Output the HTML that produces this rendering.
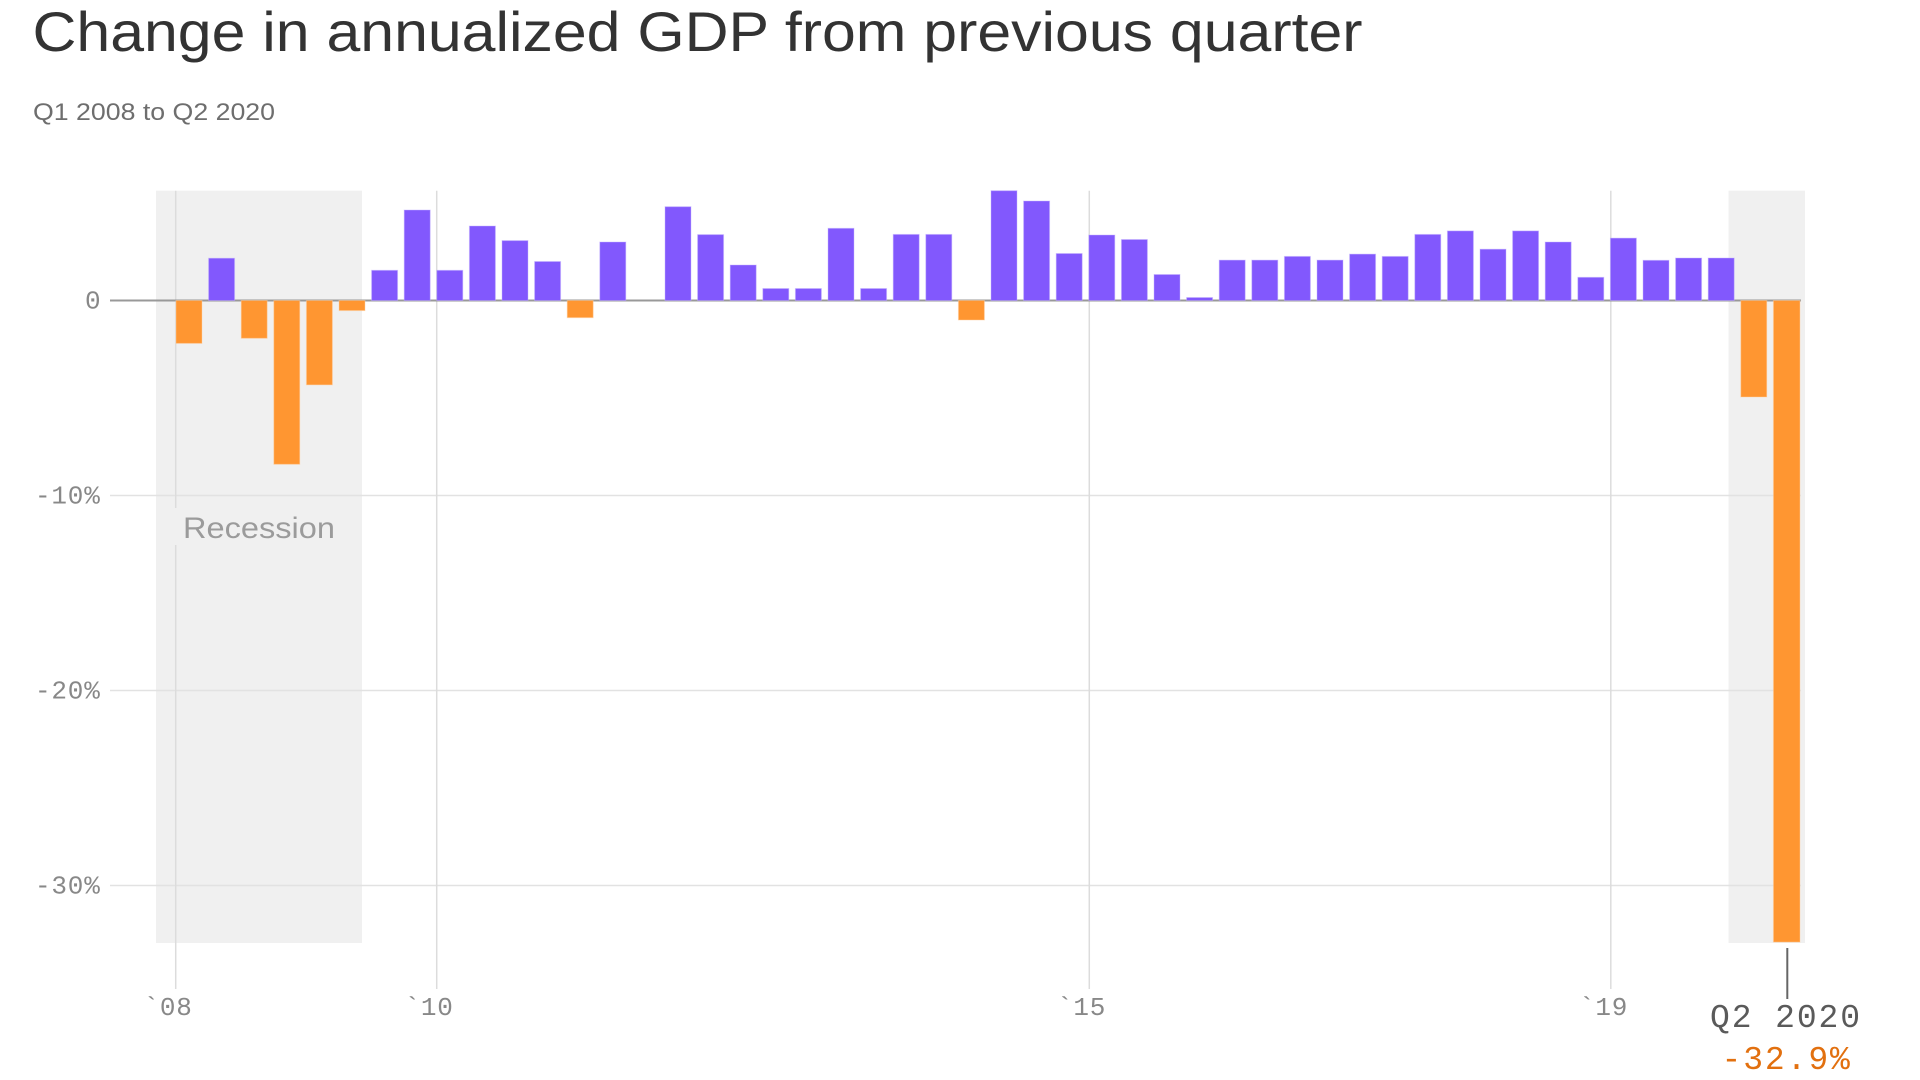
<!DOCTYPE html>
<html>
<head>
<meta charset="utf-8">
<style>
  html, body { margin: 0; padding: 0; background: #ffffff; }
  body { width: 1920px; height: 1080px; overflow: hidden; }
  svg { display: block; }
  .mono { font-family: "Liberation Mono", "DejaVu Sans Mono", monospace; }
  .sans { font-family: "Liberation Sans", "DejaVu Sans", sans-serif; }
</style>
</head>
<body>
<svg width="1920" height="1080" viewBox="0 0 1920 1080" xmlns="http://www.w3.org/2000/svg">
  <rect x="0" y="0" width="1920" height="1080" fill="#ffffff"/>

  <text class="sans" x="32.5" y="51" font-size="56" fill="#333333" textLength="1330" lengthAdjust="spacingAndGlyphs">Change in annualized GDP from previous quarter</text>
  <text class="sans" x="33" y="120" font-size="24" fill="#6e6e6e" textLength="242" lengthAdjust="spacingAndGlyphs">Q1 2008 to Q2 2020</text>

  <rect x="156" y="190.7" width="206" height="752.3" fill="#f0f0f0"/>
  <rect x="1728.5" y="190.7" width="76.5" height="752.3" fill="#f0f0f0"/>

  <g stroke="#e2e2e2" stroke-width="1.5">
    <line x1="110" y1="495.5" x2="1801" y2="495.5"/>
    <line x1="110" y1="690.5" x2="1801" y2="690.5"/>
    <line x1="110" y1="885.5" x2="1801" y2="885.5"/>
  </g>

  <g stroke="#dcdcdc" stroke-width="1.5">
    <line x1="175.7" y1="190.7" x2="175.7" y2="508"/>
    <line x1="175.7" y1="545" x2="175.7" y2="989"/>
    <line x1="436.7" y1="190.7" x2="436.7" y2="989"/>
    <line x1="1089.3" y1="190.7" x2="1089.3" y2="989"/>
    <line x1="1610.8" y1="190.7" x2="1610.8" y2="989"/>
  </g>

  <text class="sans" x="183" y="538" font-size="30" fill="#9b9b9b" textLength="152" lengthAdjust="spacingAndGlyphs">Recession</text>

  <line x1="110" y1="300.5" x2="1801" y2="300.5" stroke="#999999" stroke-width="2"/>

  <g stroke-width="1" stroke-opacity="0.45">
    <g fill="#ff9631" stroke="#ffd0a3">
      <rect x="176" y="300.5" width="26" height="42.9"/>
      <rect x="241.2" y="300.5" width="26" height="37.8"/>
      <rect x="273.8" y="300.5" width="26" height="163.8"/>
      <rect x="306.4" y="300.5" width="26" height="84.4"/>
      <rect x="339" y="300.5" width="26" height="10.1"/>
      <rect x="567.2" y="300.5" width="26" height="17.2"/>
      <rect x="958.4" y="300.5" width="26" height="19.5"/>
      <rect x="1740.8" y="300.5" width="26" height="96.5"/>
      <rect x="1773.4" y="300.5" width="26.6" height="641.6"/>
    </g>
    <g fill="#8258fd" stroke="#c4b2ff">
      <rect x="208.6" y="258.2" width="26" height="42.3"/>
      <rect x="371.6" y="270.3" width="26" height="30.2"/>
      <rect x="404.2" y="210" width="26" height="90.5"/>
      <rect x="436.8" y="270.3" width="26" height="30.2"/>
      <rect x="469.4" y="226" width="26" height="74.5"/>
      <rect x="502" y="240.6" width="26" height="59.9"/>
      <rect x="534.6" y="261.5" width="26" height="39"/>
      <rect x="599.8" y="242" width="26" height="58.5"/>
      <rect x="665" y="206.7" width="26" height="93.8"/>
      <rect x="697.6" y="234.6" width="26" height="65.9"/>
      <rect x="730.2" y="265" width="26" height="35.5"/>
      <rect x="762.8" y="288.5" width="26" height="12"/>
      <rect x="795.4" y="288.5" width="26" height="12"/>
      <rect x="828" y="228.3" width="26" height="72.2"/>
      <rect x="860.6" y="288.5" width="26" height="12"/>
      <rect x="893.2" y="234.4" width="26" height="66.1"/>
      <rect x="925.8" y="234.4" width="26" height="66.1"/>
      <rect x="991" y="190.7" width="26" height="109.8"/>
      <rect x="1023.6" y="201" width="26" height="99.5"/>
      <rect x="1056.2" y="253.5" width="26" height="47"/>
      <rect x="1088.8" y="235" width="26" height="65.5"/>
      <rect x="1121.4" y="239.5" width="26" height="61"/>
      <rect x="1154" y="274.5" width="26" height="26"/>
      <rect x="1186.6" y="297.5" width="26" height="3"/>
      <rect x="1219.2" y="260.1" width="26" height="40.4"/>
      <rect x="1251.8" y="260.1" width="26" height="40.4"/>
      <rect x="1284.4" y="256.4" width="26" height="44.1"/>
      <rect x="1317" y="260.1" width="26" height="40.4"/>
      <rect x="1349.6" y="254.1" width="26" height="46.4"/>
      <rect x="1382.2" y="256.4" width="26" height="44.1"/>
      <rect x="1414.8" y="234.4" width="26" height="66.1"/>
      <rect x="1447.4" y="230.9" width="26" height="69.6"/>
      <rect x="1480" y="249.2" width="26" height="51.3"/>
      <rect x="1512.6" y="230.9" width="26" height="69.6"/>
      <rect x="1545.2" y="242" width="26" height="58.5"/>
      <rect x="1577.8" y="277.3" width="26" height="23.2"/>
      <rect x="1610.4" y="238.1" width="26" height="62.4"/>
      <rect x="1643" y="260.3" width="26" height="40.2"/>
      <rect x="1675.6" y="258" width="26" height="42.5"/>
      <rect x="1708.2" y="258" width="26" height="42.5"/>
    </g>
  </g>

  <g class="mono" font-size="26" fill="#888888" letter-spacing="0.8">
    <text x="85" y="308.5">0</text>
    <text x="35" y="503.3">-10%</text>
    <text x="35" y="698.5">-20%</text>
    <text x="35" y="893.5">-30%</text>
  </g>

  <g class="mono" font-size="26" fill="#888888" letter-spacing="0.8">
    <text x="143.5" y="1015">`08</text>
    <text x="404.5" y="1015">`10</text>
    <text x="1057" y="1015">`15</text>
    <text x="1579" y="1015">`19</text>
  </g>

  <line x1="1787.3" y1="948" x2="1787.3" y2="999" stroke="#666666" stroke-width="2"/>
  <text class="mono" x="1710" y="1027" font-size="33" fill="#5a5a5a" letter-spacing="1.9">Q2 2020</text>
  <text class="mono" x="1721.5" y="1069" font-size="33" fill="#e2700f" letter-spacing="1.9">-32.9%</text>
</svg>
</body>
</html>
